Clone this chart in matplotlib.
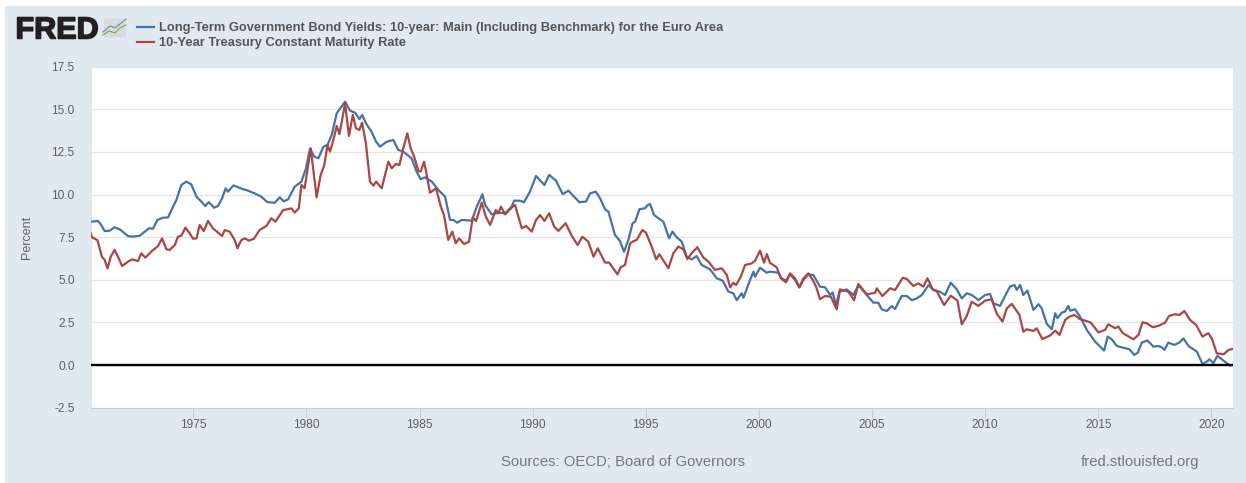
import matplotlib
matplotlib.use("Agg")
import matplotlib.pyplot as plt
import matplotlib.patheffects as pe
from matplotlib.patches import Rectangle, FancyBboxPatch
from matplotlib.lines import Line2D

# values (year, percent)
euro_years = [1970.46,1970.79,1970.93,1971.08,1971.30,1971.52,1971.75,1972.11,1972.33,1972.63,1972.85,1973.04,1973.22,1973.41,1973.66,1973.88,1974.03,1974.25,1974.47,1974.69,1974.91,1975.14,1975.36,1975.53,1975.68,1975.92,1976.09,1976.27,1976.43,1976.53,1976.78,1977.12,1977.42,1977.71,1978.0,1978.27,1978.6,1978.82,1979.0,1979.19,1979.48,1979.78,
    1979.98,1980.16,1980.34,1980.53,1980.75,1980.93,1981.12,1981.34,1981.71,1981.93,1982.15,1982.34,1982.47,1982.63,1982.88,1983.08,1983.25,1983.55,1983.84,1984.06,1984.28,1984.65,1984.87,1985.05,1985.24,1985.54,1985.83,1986.13,1986.35,1986.5,1986.67,1986.86,1987.31,1987.53,1987.78,1987.9,1988.19,1988.48,1988.78,1989.07,1989.18,1989.44,
    1989.62,1989.88,1990.15,1990.52,1990.73,1991.03,1991.33,1991.58,1991.8,1992.07,1992.36,1992.54,1992.79,1992.98,1993.2,1993.35,1993.64,1993.86,1994.04,1994.23,1994.42,1994.53,1994.72,1994.97,1995.09,1995.19,1995.37,1995.56,1995.78,1996.03,1996.18,1996.37,1996.59,1996.81,1997.03,1997.25,1997.47,1997.84,1998.14,1998.4,1998.65,
    1998.87,1999.02,1999.24,1999.32,1999.61,1999.76,1999.83,2000.05,2000.35,2000.49,2000.86,2001.01,2001.2,2001.38,2001.6,2001.79,2001.97,2002.19,2002.41,2002.7,2002.93,2003.15,2003.26,2003.41,2003.56,2003.88,2004.18,2004.4,2004.77,2005.06,2005.28,2005.43,2005.65,2005.87,2006.02,2006.31,2006.54,2006.76,2006.98,2007.2,2007.5,2007.72,2008.01,2008.23,2008.48,2008.75,2008.97,2009.19,2009.41,2009.71,
    2010.0,2010.22,2010.37,2010.66,2010.88,2011.1,2011.3,2011.4,2011.55,2011.69,2011.87,2012.14,2012.36,2012.5,2012.73,2012.95,2013.1,2013.2,2013.39,2013.54,2013.68,2013.76,2013.98,2014.2,2014.5,2014.86,2015.26,2015.42,2015.6,2015.82,2016.04,2016.38,2016.59,2016.75,2016.93,2017.18,2017.44,2017.66,2017.81,2017.93,2018.1,2018.36,2018.59,2018.77,2018.99,2019.36,2019.61,2019.8,2019.92,2020.09,2020.27,2020.54,2020.83]
euro_vals = [8.41,8.45,8.21,7.86,7.88,8.08,7.96,7.57,7.53,7.59,7.82,8.02,8.0,8.51,8.64,8.66,9.09,9.68,10.56,10.76,10.6,9.88,9.58,9.33,9.56,9.23,9.33,9.78,10.37,10.17,10.54,10.35,10.23,10.07,9.88,9.56,9.52,9.84,9.6,9.72,10.46,10.76,
    11.54,12.7,12.23,12.13,12.81,12.91,13.5,14.77,15.45,14.92,14.8,14.43,14.67,14.18,13.69,13.1,12.81,13.1,13.2,12.62,12.52,12.13,11.35,10.9,11.01,10.76,10.27,9.88,8.51,8.51,8.35,8.51,8.47,9.29,10.02,9.39,8.84,8.94,8.9,9.29,9.64,9.64,
    9.55,10.17,11.09,10.56,11.15,10.82,10.02,10.23,9.92,9.55,9.59,10.07,10.17,9.78,9.14,9.0,7.63,7.28,6.65,7.34,8.32,8.41,9.14,9.2,9.39,9.45,8.8,8.61,8.41,7.44,7.83,7.49,7.24,6.36,6.2,6.4,5.87,5.62,5.09,4.95,4.31,
    4.21,3.81,4.21,3.95,4.99,5.48,5.18,5.71,5.42,5.48,5.42,5.09,4.95,5.32,4.99,4.56,4.99,5.32,5.28,4.6,4.56,4.11,4.26,3.52,4.3,4.44,4.11,4.69,4.11,3.66,3.66,3.27,3.17,3.46,3.29,4.05,4.05,3.81,3.91,4.11,4.69,4.4,4.3,4.11,4.83,4.44,3.91,4.21,4.11,3.81,
    4.11,4.17,3.62,3.47,4.05,4.6,4.7,4.41,4.7,4.11,4.37,3.23,3.57,3.33,2.41,2.1,3.04,2.75,3.08,3.14,3.47,3.19,3.27,2.84,2.06,1.38,0.85,1.67,1.51,1.12,1.04,0.93,0.6,0.73,1.32,1.44,1.08,1.12,1.04,0.89,1.32,1.18,1.32,1.57,1.12,0.79,0.07,0.2,0.34,0.11,0.54,0.26,-0.03]

us_years = [1970.46,1970.52,1970.76,1970.96,1971.08,1971.21,1971.35,1971.52,1971.67,1971.85,1972.11,1972.29,1972.55,1972.7,1972.88,1973.17,1973.44,1973.62,1973.81,1973.95,1974.18,1974.32,1974.47,1974.65,1974.84,1974.99,1975.14,1975.28,1975.46,1975.65,1975.87,1976.09,1976.27,1976.39,1976.61,1976.83,1976.95,1977.12,1977.27,1977.45,1977.68,1977.93,1978.23,1978.45,1978.63,1978.97,1979.34,1979.48,1979.66,1979.78,1979.92,
    1980.19,1980.45,1980.63,1980.79,1980.93,1981.04,1981.19,1981.34,1981.46,1981.71,1981.88,1982.05,1982.19,1982.34,1982.46,1982.63,1982.81,1982.96,1983.08,1983.33,1983.62,1983.77,1983.96,1984.11,1984.28,1984.46,1984.61,1984.76,1984.95,1985.05,1985.2,1985.32,1985.46,1985.73,1985.94,1986.08,1986.27,1986.45,1986.6,1986.75,1986.97,1987.19,1987.35,1987.5,1987.75,1987.93,1988.12,1988.37,1988.48,1988.6,1988.78,1989.12,1989.22,
    1989.52,1989.71,1989.96,1990.15,1990.33,1990.52,1990.73,1990.95,1991.14,1991.46,1991.73,1991.99,1992.2,1992.46,1992.69,1992.88,1993.2,1993.38,1993.75,1993.89,1994.08,1994.31,1994.42,1994.6,1994.85,1995.01,1995.26,1995.46,1995.6,1996.0,1996.22,1996.44,1996.66,1996.84,1997.03,1997.28,1997.55,1997.77,
    1998.06,1998.36,1998.58,1998.73,1998.87,1998.99,1999.2,1999.39,1999.68,1999.83,2000.05,2000.23,2000.35,2000.49,2000.79,2000.97,2001.2,2001.38,2001.6,2001.79,2001.97,2002.19,2002.38,2002.53,2002.7,2002.93,2003.18,2003.44,2003.59,2003.96,2004.21,2004.4,2004.77,2005.14,2005.21,2005.46,2005.8,2006.02,2006.36,2006.54,2006.83,2007.05,2007.27,2007.45,2007.69,2007.86,2008.19,2008.48,2008.78,2008.97,2009.19,2009.41,2009.7,
    2010.0,2010.29,2010.52,2010.77,2010.96,2011.18,2011.52,2011.69,2011.84,2012.14,2012.28,2012.53,2012.87,2013.1,2013.29,2013.54,2013.73,2013.95,2014.2,2014.42,2014.67,2015.01,2015.3,2015.45,2015.75,2015.89,2016.09,2016.56,2016.78,2016.96,2017.15,2017.41,2017.66,2017.96,2018.13,2018.4,2018.59,2018.81,2019.06,2019.33,2019.61,2019.87,2020.02,2020.24,2020.54,2020.76,2020.95]
us_vals = [7.73,7.49,7.33,6.36,6.16,5.67,6.36,6.75,6.36,5.81,6.06,6.2,6.1,6.55,6.3,6.69,6.98,7.43,6.79,6.75,7.04,7.53,7.59,8.06,7.73,7.41,7.43,8.21,7.86,8.45,8.02,7.77,7.57,7.92,7.82,7.33,6.85,7.33,7.43,7.3,7.41,7.92,8.16,8.61,8.41,9.09,9.19,8.94,9.19,10.56,10.37,
    12.71,9.84,11.15,11.73,12.91,12.52,13.2,14.02,13.55,15.35,13.44,14.67,13.89,13.79,14.22,13.0,10.76,10.52,10.76,10.37,11.93,11.54,11.8,11.73,12.71,13.59,12.71,12.23,11.38,11.35,11.93,11.15,10.11,10.37,9.29,8.8,7.34,7.83,7.14,7.43,7.1,7.24,8.65,8.45,9.53,8.71,8.22,9.1,8.9,9.29,8.84,9.29,9.39,
    8.02,8.16,7.83,8.51,8.8,8.45,8.9,8.12,7.87,8.32,7.57,7.04,7.53,7.24,6.36,6.85,6.01,6.01,5.32,5.73,5.87,7.14,7.24,7.34,7.92,7.77,6.95,6.2,6.5,5.68,6.56,6.95,6.79,6.22,6.56,6.91,6.3,6.07,
    5.58,5.68,5.29,4.56,4.83,4.69,5.18,5.87,5.96,6.12,6.71,6.0,6.51,6.0,5.73,5.09,4.85,5.38,5.09,4.56,5.09,5.38,4.99,4.6,3.87,4.05,4.01,3.27,4.44,4.3,3.81,4.75,4.15,4.24,4.5,4.05,4.5,4.4,5.12,5.05,4.64,4.79,4.6,5.09,4.44,4.34,3.52,4.07,3.78,2.39,2.88,3.72,3.47,
    3.78,3.86,3.0,2.55,3.33,3.59,2.94,1.96,2.1,2.0,2.16,1.53,1.73,2.02,1.77,2.65,2.84,2.94,2.69,2.61,2.49,1.92,2.06,2.39,2.16,2.26,1.87,1.51,1.77,2.51,2.45,2.22,2.3,2.49,2.88,2.98,2.94,3.17,2.65,2.35,1.67,1.87,1.57,0.69,0.63,0.89,0.95]

y_ticks = [-2.5, 0, 2.5, 5, 7.5, 10, 12.5, 15, 17.5]
y_labels = ["-2.5", "0.0", "2.5", "5.0", "7.5", "10.0", "12.5", "15.0", "17.5"]
x_ticks = [1975, 1980, 1985, 1990, 1995, 2000, 2005, 2010, 2015, 2020]

euro_name = "Long-Term Government Bond Yields: 10-year: Main (Including Benchmark) for the Euro Area"
us_name = "10-Year Treasury Constant Maturity Rate"

W, H = 1246, 483
BLUE = "#4572a7"
RED = "#aa4643"
BG = "#e1e9f0"
plt.rcParams['font.family'] = ['Liberation Sans', 'DejaVu Sans']

fig = plt.figure(figsize=(W / 100, H / 100), dpi=100, facecolor="white")

def fx(px):
    return px / W
def fy(px):
    return 1 - px / H

fig.add_artist(Rectangle((fx(5), 0), 1 - fx(5), fy(6), transform=fig.transFigure, color=BG, lw=0, zorder=-5))

ax = fig.add_axes([fx(90.5), fy(407.7), fx(1232.7 - 90.5), (407.7 - 66.7) / H])
ax.set_facecolor("white")
ax.plot(euro_years, euro_vals, color=BLUE, lw=1.6, zorder=3, solid_joinstyle="round")
ax.plot(us_years, us_vals, color=RED, lw=1.6, zorder=4, solid_joinstyle="round")
ax.axhline(0, color="black", lw=1.7, zorder=5)
ax.set_xlim(1970.455, 2020.946)
ax.set_ylim(-2.5, 17.5)
ax.set_yticks(y_ticks)
ax.set_yticklabels(y_labels)
ax.set_xticks(x_ticks)
ax.grid(axis="y", color="#e6e6e6", lw=1, zorder=1)
ax.set_axisbelow(True)
for s in ["top", "right"]:
    ax.spines[s].set_visible(False)
ax.spines["left"].set_color("#dde6f0")
ax.spines["bottom"].set_color("#c0d0e0")
ax.tick_params(axis="y", length=0, pad=11.5, labelsize=8.6, labelcolor="#606060")
ax.tick_params(axis="x", length=7, width=0.8, color="#c0d0e0", pad=1, labelsize=8.6, labelcolor="#606060")

fig.text(fx(27), fy(237), "Percent", rotation=90, ha="center", va="center", fontsize=9, color="#606060")

# legend
fig.add_artist(Line2D([fx(137), fx(154)], [fy(27), fy(27)], color=BLUE, lw=1.6))
fig.add_artist(Line2D([fx(137), fx(154)], [fy(42), fy(42)], color=RED, lw=1.6))
fig.text(fx(159), fy(28), euro_name, ha="left", va="center", fontsize=9.27, fontweight="bold", color="#555555")
fig.text(fx(159), fy(43), us_name, ha="left", va="center", fontsize=9.27, fontweight="bold", color="#555555")

# logo
fig.text(fx(15.5), fy(38.5), "FRED", ha="left", va="baseline", fontsize=22, fontweight="bold", color="#231f20",
         path_effects=[pe.withStroke(linewidth=1.1, foreground="#231f20")])
fig.add_artist(FancyBboxPatch((fx(105), fy(37)), fx(20), 18 / H, boxstyle="round,pad=0.001",
                              transform=fig.transFigure, fc="#d7dbdc", ec="none"))
fig.add_artist(Line2D([fx(v) for v in [103, 110, 115, 120, 126]], [fy(v) for v in [32, 26, 28, 24, 19]], color="#6a8caf", lw=0.8))
fig.add_artist(Line2D([fx(v) for v in [103, 109, 115, 120, 126]], [fy(v) for v in [35, 31, 33, 28, 25]], color="#7fa650", lw=0.8))

# footer
fig.text(fx(501), fy(462), "Sources: OECD; Board of Governors", ha="left", va="center", fontsize=10.75, color="#777777")
fig.text(fx(1199.5), fy(462), "fred.stlouisfed.org", ha="right", va="center", fontsize=10.75, color="#777777")

fig.savefig("out.png", dpi=100, facecolor="white")
